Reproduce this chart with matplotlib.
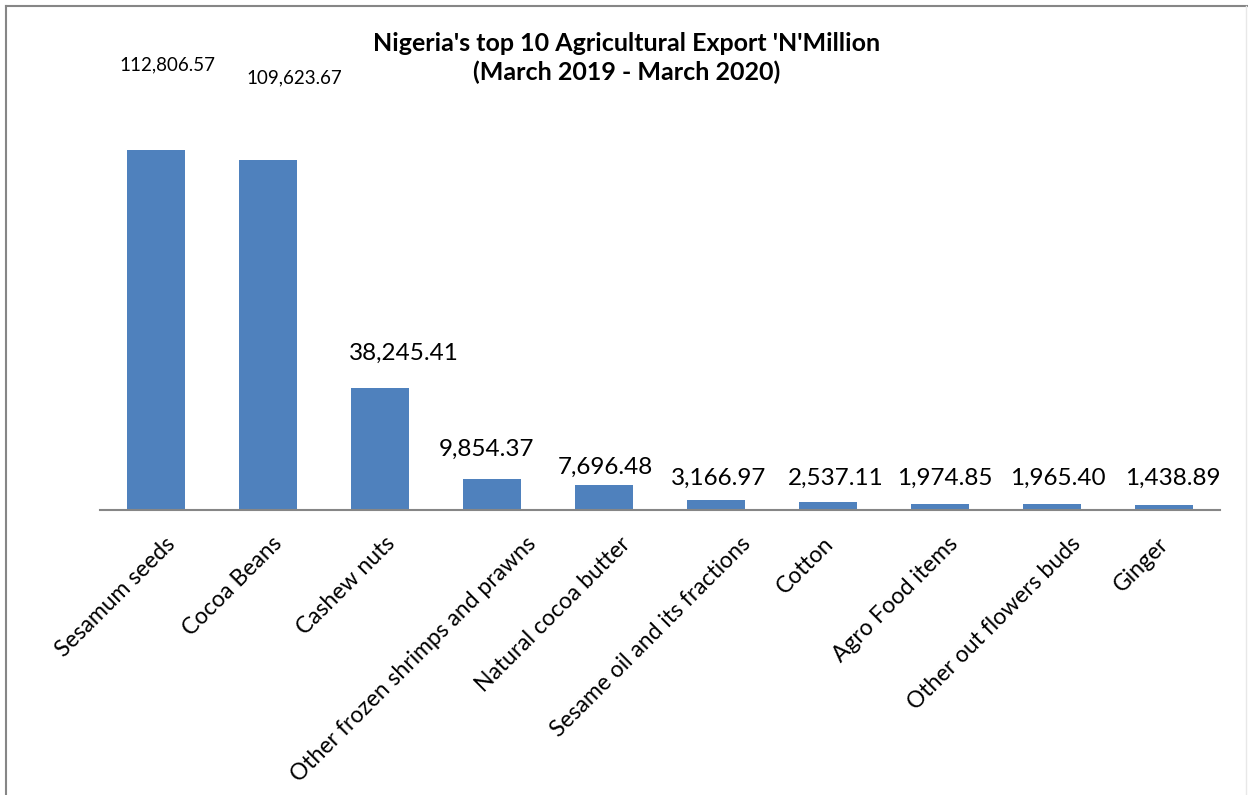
import matplotlib
matplotlib.use("Agg")
import matplotlib.pyplot as plt
from matplotlib.lines import Line2D
from matplotlib.transforms import ScaledTranslation

plt.rcParams['font.family'] = ['Lato', 'DejaVu Sans']

# Data
products = ['Sesamum seeds', 'Cocoa Beans', 'Cashew nuts',
            'Other frozen shrimps and prawns', 'Natural cocoa butter',
            'Sesame oil and its fractions', 'Cotton', 'Agro Food items',
            'Other out flowers buds', 'Ginger']
values = [112806.57, 109623.67, 38245.41, 9854.37, 7696.48,
          3166.97, 2537.11, 1974.85, 1965.40, 1438.89]
value_labels = ['112,806.57', '109,623.67', '38,245.41', '9,854.37', '7,696.48',
                '3,166.97', '2,537.11', '1,974.85', '1,965.40', '1,438.89']

# label placement (pixel offsets from bar top) - Excel put them a bit oddly
label_dx = [11, 26, 24, -5, 1, 3, 8, 5, 6, 9]
label_dy = [85, 82, 28, 23, 12, 15, 17, 19, 19, 21]
# excel shifts the rotated category labels right depending on their length
tick_dx = [16, 11, 12, 41, 23, 31, 2, 15, 25, 1]

fig = plt.figure(figsize=(12.48, 7.95), dpi=100)
ax = fig.add_axes([100 / 1248, 285 / 795, 1120 / 1248, 383 / 795])

x = range(len(products))
bars = ax.bar(x, values, width=0.51, color='#4F81BD')

ax.set_xlim(-0.5, len(products) - 0.5)
ax.set_ylim(0, 120000)

px = 0.72  # points per pixel at 100 dpi
for i, b in enumerate(bars):
    if i < 2:
        ax.annotate(value_labels[i], (b.get_x() + b.get_width() / 2, b.get_height()),
                    xytext=(label_dx[i] * px, label_dy[i] * px), textcoords='offset points',
                    ha='center', va='center', fontsize=13.5, annotation_clip=False)
    else:
        ax.annotate(value_labels[i], (b.get_x() + b.get_width() / 2, b.get_height()),
                    xytext=(label_dx[i] * px, label_dy[i] * px), textcoords='offset points',
                    ha='center', va='baseline', fontsize=17.5, annotation_clip=False)

ax.set_xticks(list(x))
ax.set_xticklabels(products, rotation=45, ha='right', va='center',
                   rotation_mode='anchor', fontsize=16.5)
ax.tick_params(axis='x', length=0, pad=22)
ax.set_yticks([])
for lbl, dx in zip(ax.get_xticklabels(), tick_dx):
    lbl.set_transform(lbl.get_transform() + ScaledTranslation(dx / 100, 0, fig.dpi_scale_trans))

for s in ['top', 'right', 'left']:
    ax.spines[s].set_visible(False)
ax.spines['bottom'].set_color('#868686')
ax.spines['bottom'].set_linewidth(1.5)

fig.text(627 / 1248, 1 - 58 / 795, "Nigeria's top 10 Agricultural Export 'N'Million\n(March 2019 - March 2020)",
         ha='center', va='center', fontsize=18, fontweight='bold', linespacing=1.25)

# chart border (top and left visible in the screenshot)
fig.add_artist(Line2D([6 / 1248, 1], [1 - 6 / 795, 1 - 6 / 795], color='#868686', lw=1.5))
fig.add_artist(Line2D([6 / 1248, 6 / 1248], [0, 1 - 6 / 795], color='#868686', lw=1.5))
fig.add_artist(Line2D([1246 / 1248, 1246 / 1248], [0, 1 - 6 / 795], color='#e8e8e8', lw=1))

fig.savefig('out.png', dpi=100)
